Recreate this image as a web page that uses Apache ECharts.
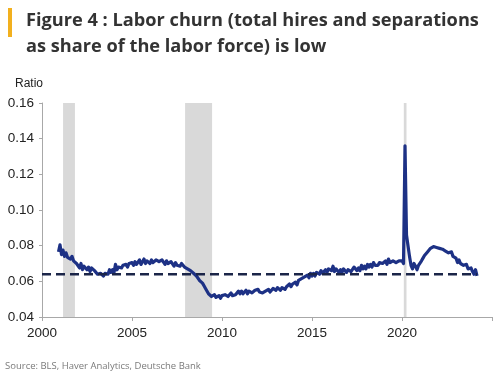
<!DOCTYPE html>
<html><head><meta charset="utf-8">
<script src="https://cdn.jsdelivr.net/npm/echarts@6/dist/echarts.min.js"></script>
<style>html,body{margin:0;padding:0;background:#fff}#c{width:500px;height:379px}</style>
</head><body><div id="c"></div>
<script>
// Monthly churn ratio, starting Dec 2000
const startYear = 2000, startMonth = 12;
const churn = [
  0.0765,
  0.0805,0.0750,0.0775,0.0740,0.0760,0.0735,0.0745,0.0725,0.0740,0.0715,0.0725,0.0700, // 2001
  0.0695,0.0675,0.0700,0.0665,0.0685,0.0690,0.0665,0.0680,0.0655,0.0675,0.0685,0.0660, // 2002
  0.0650,0.0640,0.0630,0.0645,0.0635,0.0630,0.0645,0.0650,0.0640,0.0665,0.0650,0.0665, // 2003
  0.0650,0.0695,0.0665,0.0680,0.0670,0.0675,0.0690,0.0680,0.0695,0.0680,0.0700,0.0690, // 2004
  0.0705,0.0690,0.0710,0.0695,0.0705,0.0720,0.0695,0.0710,0.0725,0.0700,0.0715,0.0720, // 2005
  0.0700,0.0720,0.0705,0.0695,0.0720,0.0730,0.0710,0.0705,0.0720,0.0710,0.0695,0.0715, // 2006
  0.0700,0.0690,0.0710,0.0700,0.0685,0.0705,0.0690,0.0700,0.0685,0.0700,0.0690,0.0680, // 2007
  0.0685,0.0670,0.0675,0.0660,0.0665,0.0645,0.0650,0.0630,0.0625,0.0605,0.0610,0.0590, // 2008
  0.0575,0.0560,0.0550,0.0530,0.0535,0.0515,0.0510,0.0525,0.0510,0.0515,0.0520,0.0505, // 2009
  0.0520,0.0510,0.0525,0.0535,0.0515,0.0520,0.0535,0.0520,0.0530,0.0525,0.0535,0.0545, // 2010
  0.0530,0.0545,0.0530,0.0540,0.0550,0.0530,0.0545,0.0555,0.0535,0.0545,0.0550,0.0540, // 2011
  0.0555,0.0540,0.0550,0.0535,0.0530,0.0545,0.0540,0.0555,0.0540,0.0550,0.0560,0.0555, // 2012
  0.0550,0.0565,0.0555,0.0550,0.0565,0.0575,0.0555,0.0570,0.0560,0.0585,0.0570,0.0585, // 2013
  0.0580,0.0595,0.0580,0.0605,0.0600,0.0615,0.0605,0.0625,0.0615,0.0635,0.0620,0.0645, // 2014
  0.0630,0.0645,0.0630,0.0650,0.0655,0.0640,0.0660,0.0645,0.0655,0.0665,0.0650,0.0670, // 2015
  0.0675,0.0660,0.0685,0.0655,0.0670,0.0660,0.0650,0.0665,0.0650,0.0670,0.0660,0.0650, // 2016
  0.0665,0.0675,0.0655,0.0650,0.0680,0.0685,0.0660,0.0675,0.0660,0.0690,0.0670,0.0685, // 2017
  0.0670,0.0695,0.0680,0.0695,0.0680,0.0705,0.0690,0.0700,0.0690,0.0705,0.0715,0.0700, // 2018
  0.0700,0.0715,0.0695,0.0725,0.0705,0.0700,0.0715,0.0720,0.0705,0.0700,0.0715,0.0710, // 2019
  0.0715,0.0700,0.1360,0.0860,0.0800,0.0740,0.0690,0.0670,0.0700,0.0685,0.0665,0.0690, // 2020
  0.0700,0.0715,0.0730,0.0745,0.0750,0.0765,0.0770,0.0785,0.0780,0.0795,0.0805,0.0790, // 2021
  0.0800,0.0785,0.0790,0.0780,0.0790,0.0770,0.0775,0.0760,0.0750,0.0765,0.0740,0.0745, // 2022
  0.0730,0.0705,0.0720,0.0700,0.0710,0.0690,0.0680,0.0695,0.0670,0.0660,0.0675,0.0655, // 2023
  0.0640,0.0665,0.0630                                                               // 2024
];
const avgLevel = 0.064;
const recessions = [[2001.17, 2001.83], [2007.95, 2009.45], [2020.1, 2020.25]];
const yTicks = { min: 0.04, max: 0.16, step: 0.02 };
const xRange = { min: 2000, max: 2025, step: 5 };

const lineData = churn.map((v, i) => {
  const m = startMonth - 1 + i;
  return [startYear + m / 12, v];
});
const lastX = lineData[lineData.length - 1][0];

const chart = echarts.init(document.getElementById('c'), null, {renderer: 'canvas'});
chart.setOption({
  animation: false,
  graphic: [
    {type: 'rect', shape: {x: 8, y: 8, width: 4, height: 29}, style: {fill: '#f2b01e'}},
    {type: 'text', left: 26, top: 8, style: {text: 'Figure 4 : Labor churn (total hires and separations\nas share of the labor force) is low', font: 'bold 18.2px "Open Sans"', fill: '#333', lineHeight: 26}},
    {type: 'text', left: 15, top: 78, style: {text: 'Ratio', font: '12px "Liberation Sans"', fill: '#222'}},
    {type: 'text', left: 5, top: 361, style: {text: 'Source: BLS, Haver Analytics, Deutsche Bank', font: '9.5px "Open Sans"', fill: '#7a7a7a'}}
  ],
  grid: {left: 42, right: 8, top: 103, bottom: 62, containLabel: false},
  xAxis: {
    type: 'value', min: xRange.min, max: xRange.max, interval: xRange.step,
    axisLine: {lineStyle: {color: '#a8a8a8', width: 1}},
    axisTick: {show: true, length: 4, lineStyle: {color: '#a8a8a8'}},
    axisLabel: {color: '#222', fontSize: 13.5, fontFamily: 'Liberation Sans', margin: 9,
      formatter: v => v >= 2025 ? '' : String(v)},
    splitLine: {show: false}
  },
  yAxis: {
    type: 'value', min: yTicks.min, max: yTicks.max, interval: yTicks.step,
    axisLine: {show: true, lineStyle: {color: '#a8a8a8', width: 1}},
    axisTick: {show: true, length: 3, lineStyle: {color: '#a8a8a8'}},
    axisLabel: {color: '#222', fontSize: 13.5, fontFamily: 'Liberation Sans', margin: 8,
      formatter: v => v.toFixed(2)},
    splitLine: {show: false}
  },
  series: [
    {
      type: 'line', data: lineData, showSymbol: false, symbol: 'none',
      lineStyle: {color: '#1d3185', width: 3.2, join: 'round'}, z: 3,
      markArea: {silent: true, itemStyle: {color: '#d9d9d9'},
        data: recessions.map(r => [{xAxis: r[0]}, {xAxis: r[1]}])}
    },
    {
      type: 'line', data: [[xRange.min, avgLevel], [lastX, avgLevel]], showSymbol: false, symbol: 'none',
      lineStyle: {color: '#1b2548', width: 2.5, type: [9, 5]}, z: 4
    }
  ]
});
</script></body></html>
